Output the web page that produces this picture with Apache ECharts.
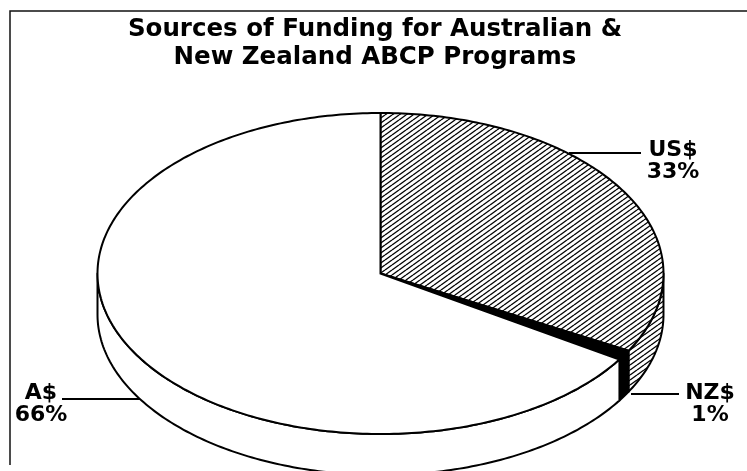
<!DOCTYPE html>
<html>
<head>
<meta charset="utf-8">
<script src="https://cdn.jsdelivr.net/npm/echarts@6/dist/echarts.min.js"></script>
<style>html,body{margin:0;padding:0;background:#fff}#c{width:747px;height:471px}</style>
</head>
<body>
<div id="c"></div>
<script>
// ---- data ----
const categories = ['US$', 'NZ$', 'A$'];
const values = [33, 1, 66];
const pctLabels = ['33%', '1%', '66%'];
const titleLines = ['Sources of Funding for Australian &', 'New Zealand ABCP Programs'];

// ---- layout ----
const PIE = { cx: 380.5, cy: 273.5, rx: 283, ry: 160.5, depth: 41 };
const TITLE = { x: 375, ys: [30, 58], fontSize: 24.5 };
const LABELS = {
  'US$': { x: 673, y1: 150, y2: 172, line: [[569, 153], [641, 153]] },
  'NZ$': { x: 710, y1: 393, y2: 415, line: [[631, 394], [679, 394]] },
  'A$':  { x: 41,  y1: 393, y2: 415, line: [[140, 399], [62, 399]] }
};

// hatch pattern
function makeHatch() {
  const w = 7, h = 5;
  const c = document.createElement('canvas');
  c.width = w; c.height = h;
  const g = c.getContext('2d');
  g.fillStyle = '#fff'; g.fillRect(0, 0, w, h);
  g.strokeStyle = '#000'; g.lineWidth = 1.3;
  for (let k = -1; k <= 1; k++) {
    g.beginPath();
    g.moveTo(0, h + k * h);
    g.lineTo(w, k * h);
    g.stroke();
  }
  return c;
}
const hatch = { image: makeHatch(), repeat: 'repeat' };
const fills = { 'US$': hatch, 'NZ$': '#000', 'A$': '#fff' };

const total = values.reduce((a, b) => a + b, 0);
const starts = [], ends = [];
let acc = 0;
values.forEach(v => { starts.push(acc / total * Math.PI * 2); acc += v; ends.push(acc / total * Math.PI * 2); });

function pt(t, dy) {
  return [PIE.cx + PIE.rx * Math.sin(t), PIE.cy - PIE.ry * Math.cos(t) + (dy || 0)];
}
function arc(a, b, dy) {
  const n = Math.max(2, Math.ceil((b - a) / (Math.PI * 2) * 400));
  const pts = [];
  for (let i = 0; i <= n; i++) pts.push(pt(a + (b - a) * i / n, dy));
  return pts;
}

function renderWall(params, api) {
  const i = params.dataIndex;
  const a = Math.max(starts[i], Math.PI / 2);
  const b = Math.min(ends[i], Math.PI * 1.5);
  if (a >= b) return null;
  const top = arc(a, b, 0);
  const bot = arc(a, b, PIE.depth).reverse();
  return {
    type: 'polygon',
    shape: { points: top.concat(bot) },
    style: { fill: fills[categories[i]], stroke: '#000', lineWidth: 2, lineJoin: 'round' }
  };
}
function renderTop(params, api) {
  const i = params.dataIndex;
  const pts = [[PIE.cx, PIE.cy]].concat(arc(starts[i], ends[i], 0));
  return {
    type: 'polygon',
    shape: { points: pts },
    style: { fill: fills[categories[i]], stroke: '#000', lineWidth: 2, lineJoin: 'miter' }
  };
}

function textEl(txt, x, y, size) {
  return {
    type: 'text', z: 10,
    style: { text: txt, x: x, y: y, fill: '#000', fontSize: size, fontWeight: 'bold', fontFamily: 'DejaVu Sans',
             textAlign: 'center', textVerticalAlign: 'middle', align: 'center', verticalAlign: 'middle' }
  };
}

const graphics = [
  { type: 'polyline', shape: { points: [[10, 465], [10, 11], [747, 11]] }, style: { stroke: '#111', lineWidth: 1.5, fill: null }, z: 1 }
];
titleLines.forEach((t, i) => graphics.push(textEl(t, TITLE.x, TITLE.ys[i], TITLE.fontSize)));
categories.forEach((c, i) => {
  const L = LABELS[c];
  graphics.push({ type: 'line', shape: { x1: L.line[0][0], y1: L.line[0][1], x2: L.line[1][0], y2: L.line[1][1] }, style: { stroke: '#000', lineWidth: 2 }, z: 10 });
  graphics.push(textEl(c, L.x, L.y1, 22));
  graphics.push(textEl(pctLabels[i], L.x, L.y2, 22));
});

const chart = echarts.init(document.getElementById('c'), null, { renderer: 'canvas' });
chart.setOption({
  animation: false,
  backgroundColor: '#fff',
  graphic: graphics,
  series: [
    { type: 'custom', coordinateSystem: 'none', z: 2, renderItem: renderWall, data: values.map((v, i) => ({ name: categories[i], value: v })) },
    { type: 'custom', coordinateSystem: 'none', z: 3, renderItem: renderTop, data: values.map((v, i) => ({ name: categories[i], value: v })) }
  ]
});
</script>
</body>
</html>
